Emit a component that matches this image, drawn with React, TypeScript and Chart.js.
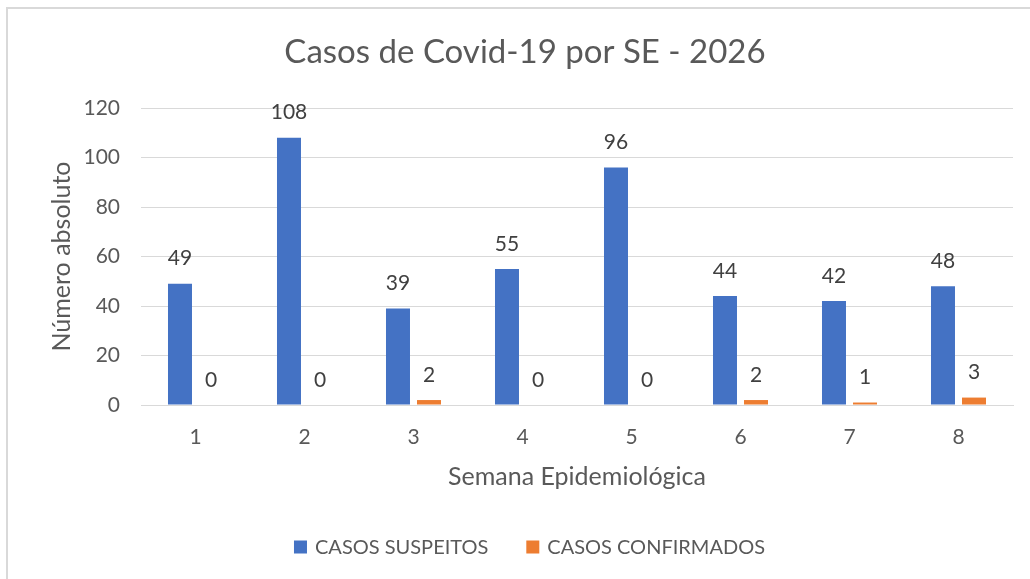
import React, { useEffect, useRef } from "react";
import { Chart, registerables } from "chart.js";

Chart.register(...registerables);

const TITLE = "Casos de Covid-19 por SE - 2026";
const X_TITLE = "Semana Epidemiológica";
const Y_TITLE = "Número absoluto";
const WEEKS = ["1", "2", "3", "4", "5", "6", "7", "8"];
const SUSPEITOS = [49, 108, 39, 55, 96, 44, 42, 48];
const CONFIRMADOS = [0, 0, 2, 0, 0, 2, 1, 3];
const SERIES_NAMES = ["CASOS SUSPEITOS", "CASOS CONFIRMADOS"];
const SERIES_COLORS = ["#4472C4", "#ED7D31"];

const FONT = "Lato, 'Open Sans', sans-serif";

const valueLabels = {
  id: "valueLabels",
  afterDatasetsDraw(chart: any) {
    const ctx = chart.ctx;
    ctx.save();
    ctx.font = `21px ${FONT}`;
    ctx.fillStyle = "#404040";
    ctx.textAlign = "center";
    ctx.textBaseline = "middle";
    chart.data.datasets.forEach((ds: any, i: number) => {
      const meta = chart.getDatasetMeta(i);
      meta.data.forEach((el: any, j: number) => {
        ctx.fillText(String(ds.data[j]), el.x, el.y - 25);
      });
    });
    ctx.restore();
  },
};

const customTitle = {
  id: "customTitle",
  afterDraw(chart: any) {
    const ctx = chart.ctx;
    ctx.save();
    ctx.font = `33px ${FONT}`;
    ctx.fillStyle = "#595959";
    ctx.textAlign = "center";
    ctx.textBaseline = "middle";
    ctx.fillText(TITLE, 525, 52);
    ctx.restore();
  },
};

const customLegend = {
  id: "customLegend",
  afterDraw(chart: any) {
    const ctx = chart.ctx;
    ctx.save();
    ctx.font = `20px ${FONT}`;
    ctx.textBaseline = "middle";
    ctx.textAlign = "left";
    const box = 13;
    const gap = 8;
    const itemGap = 38;
    const widths = chart.data.datasets.map((ds: any) => ctx.measureText(ds.label).width);
    const total =
      widths.reduce((a: number, w: number) => a + box + gap + w, 0) + itemGap * (widths.length - 1);
    const cy = 547;
    let x = 529.5 - total / 2;
    chart.data.datasets.forEach((ds: any, i: number) => {
      ctx.fillStyle = ds.backgroundColor;
      ctx.fillRect(x, cy - box / 2, box, box);
      x += box + gap;
      ctx.fillStyle = "#595959";
      ctx.fillText(ds.label, x, cy + 1);
      x += widths[i] + itemGap;
    });
    ctx.restore();
  },
};

export default function App() {
  const ref = useRef<HTMLCanvasElement>(null);
  useEffect(() => {
    const chart = new Chart(ref.current!, {
      type: "bar",
      data: {
        labels: WEEKS,
        datasets: [
          {
            label: SERIES_NAMES[0],
            data: SUSPEITOS,
            backgroundColor: SERIES_COLORS[0],
            categoryPercentage: 0.569,
            barPercentage: 0.774,
          },
          {
            label: SERIES_NAMES[1],
            data: CONFIRMADOS,
            backgroundColor: SERIES_COLORS[1],
            categoryPercentage: 0.569,
            barPercentage: 0.774,
          },
        ],
      },
      options: {
        animation: false,
        responsive: false,
        maintainAspectRatio: false,
        layout: { padding: { left: 0, top: 108, right: 17, bottom: 51 } },
        plugins: {
          title: { display: false },
          legend: { display: false },
          tooltip: { enabled: false },
        },
        scales: {
          x: {
            grid: { display: false, drawTicks: false },
            border: { display: true, color: "#d9d9d9", width: 1 },
            ticks: {
              color: "#595959",
              font: { family: FONT, size: 21 },
              padding: 20,
            },
            title: {
              display: true,
              text: X_TITLE,
              color: "#595959",
              font: { family: FONT, size: 25, lineHeight: 1.2 },
              padding: { top: 0, bottom: 36 },
            },
            afterFit(scale: any) {
              scale.height = 123;
            },
          },
          y: {
            min: 0,
            max: 120,
            ticks: {
              stepSize: 20,
              color: "#595959",
              font: { family: FONT, size: 21 },
              padding: 21,
            },
            grid: { color: "#d9d9d9", lineWidth: 1, drawTicks: false },
            border: { display: false },
            title: {
              display: true,
              text: Y_TITLE,
              color: "#595959",
              font: { family: FONT, size: 25, lineHeight: 1.2 },
              padding: { top: 47, bottom: 0 },
            },
            afterFit(scale: any) {
              scale.width = 141;
            },
          },
        },
      },
      plugins: [valueLabels, customTitle, customLegend],
    });
    return () => chart.destroy();
  }, []);
  return (
    <div
      style={{
        position: "fixed",
        left: 0,
        top: 0,
        width: 1030,
        height: 579,
        background: "#ffffff",
      }}
    >
      <div
        style={{
          position: "absolute",
          left: 6,
          top: 7,
          width: 1030,
          height: 579,
          borderLeft: "2px solid #d9d9d9",
          borderTop: "2px solid #d9d9d9",
          boxSizing: "border-box",
        }}
      />
      <canvas
        ref={ref}
        width={1030}
        height={579}
        style={{ position: "absolute", left: 0, top: 0, width: 1030, height: 579 }}
      />
    </div>
  );
}
